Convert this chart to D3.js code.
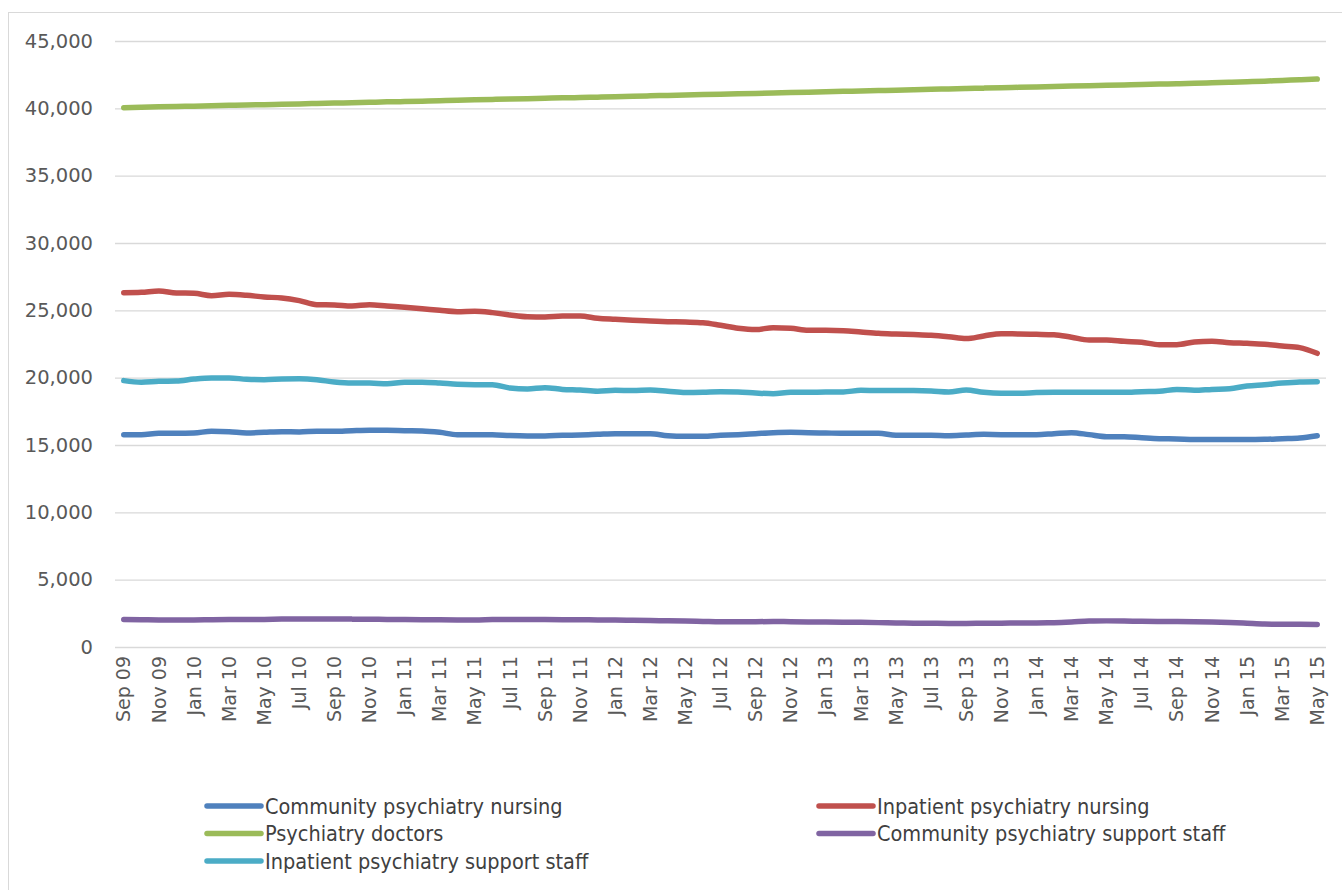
<!DOCTYPE html>
<html>
<head>
  <title>Psychiatry workforce, Sep 09 - May 15</title>
  <script src="https://d3js.org/d3.v7.min.js"></script>
  <style>
    body {
      background-color: white;
      margin: 0;
      padding: 0;
      overflow: hidden;
    }
    svg { display: block; }
  </style>
</head>
<body>
  <svg width="1342" height="890"></svg>

  <script>
    // monthly figures, Sep 2009 to May 2015 (69 months)
    const months = d3.timeMonth.range(new Date(2009, 8, 1), new Date(2015, 5, 1)).map(d3.timeFormat("%b %y"));

    const communityNursing = [
      15770, 15770, 15870, 15870, 15890, 16020, 15990, 15890, 15940, 15990,
      15970, 16020, 16020, 16060, 16090, 16090, 16060, 16040, 15940, 15770,
      15770, 15770, 15700, 15670, 15670, 15720, 15740, 15790, 15840, 15840,
      15840, 15690, 15650, 15650, 15720, 15770, 15840, 15910, 15940, 15910,
      15890, 15870, 15870, 15870, 15720, 15720, 15720, 15690, 15740, 15790,
      15770, 15770, 15770, 15840, 15910, 15770, 15620, 15620, 15540, 15470,
      15450, 15400, 15400, 15400, 15400, 15420, 15470, 15520, 15690
    ];
    const inpatientNursing = [
      26310, 26340, 26440, 26290, 26270, 26090, 26190, 26120, 25990, 25920,
      25720, 25420, 25400, 25320, 25420, 25320, 25230, 25120, 25000, 24900,
      24930, 24830, 24660, 24530, 24510, 24580, 24580, 24410, 24330, 24260,
      24210, 24160, 24130, 24080, 23890, 23670, 23570, 23710, 23670, 23520,
      23520, 23490, 23390, 23290, 23240, 23200, 23150, 23040, 22900, 23100,
      23270, 23240, 23220, 23190, 23000, 22800, 22800, 22700, 22630, 22450,
      22450, 22650, 22700, 22600, 22550, 22480, 22350, 22230, 21810
    ];
    const doctors = [
      40050, 40080, 40110, 40140, 40160, 40190, 40220, 40250, 40270, 40300,
      40330, 40360, 40390, 40420, 40450, 40480, 40500, 40530, 40560, 40600,
      40630, 40660, 40690, 40720, 40750, 40780, 40800, 40830, 40860, 40900,
      40930, 40960, 40990, 41020, 41050, 41080, 41110, 41140, 41170, 41200,
      41230, 41260, 41290, 41320, 41350, 41380, 41410, 41440, 41470, 41500,
      41530, 41560, 41590, 41620, 41650, 41680, 41710, 41740, 41770, 41800,
      41830, 41860, 41900, 41940, 41980, 42020, 42070, 42120, 42170
    ];
    const communitySupport = [
      2040, 2020, 2010, 2010, 2010, 2030, 2040, 2040, 2050, 2070,
      2080, 2080, 2080, 2070, 2060, 2050, 2040, 2030, 2020, 2010,
      2010, 2040, 2050, 2050, 2040, 2030, 2020, 2010, 2000, 1980,
      1960, 1950, 1930, 1900, 1870, 1870, 1880, 1890, 1880, 1860,
      1850, 1840, 1830, 1810, 1790, 1770, 1760, 1750, 1750, 1760,
      1770, 1780, 1790, 1800, 1850, 1930, 1940, 1930, 1910, 1900,
      1890, 1880, 1860, 1820, 1760, 1700, 1690, 1690, 1680
    ];
    const inpatientSupport = [
      19780, 19660, 19730, 19750, 19900, 19980, 19980, 19880, 19850, 19900,
      19920, 19850, 19680, 19600, 19600, 19550, 19660, 19660, 19600, 19510,
      19480, 19480, 19230, 19160, 19260, 19130, 19080, 18990, 19060, 19040,
      19080, 18990, 18890, 18910, 18960, 18940, 18860, 18810, 18910, 18910,
      18940, 18940, 19060, 19040, 19040, 19040, 19010, 18940, 19080, 18910,
      18840, 18840, 18890, 18910, 18910, 18910, 18910, 18910, 18960, 18990,
      19130, 19060, 19130, 19180, 19380, 19480, 19600, 19680, 19700
    ];

    const seriesNames = [
      "Community psychiatry nursing", "Inpatient psychiatry nursing", "Psychiatry doctors",
      "Community psychiatry support staff", "Inpatient psychiatry support staff"
    ];
    const seriesColors = ["#4F81BD", "#C0504D", "#9BBB59", "#8064A2", "#4BACC6"];
    const seriesValues = [communityNursing, inpatientNursing, doctors, communitySupport, inpatientSupport];
    const yTicks = [0, 5000, 10000, 15000, 20000, 25000, 30000, 35000, 40000, 45000];

    const svg = d3.select("svg"),
          margin = { top: 41, right: 16, bottom: 243, left: 115 },
          width = +svg.attr("width") - margin.left - margin.right,
          height = +svg.attr("height") - margin.top - margin.bottom;

    // chart border
    svg.append("rect")
        .attr("x", 8.5).attr("y", 12.5)
        .attr("width", 1345).attr("height", 890)
        .attr("fill", "none")
        .attr("stroke", "#d9d9d9");

    const g = svg.append("g").attr("transform", "translate(" + margin.left + "," + margin.top + ")");

    const xScale = d3.scaleBand().domain(months).range([0, width]);
    const yScale = d3.scaleLinear().domain([0, 45000]).range([height, 0]);

    // gridlines + y labels
    const yAxis = g.append("g")
        .call(d3.axisLeft(yScale).tickValues(yTicks).tickSize(-width).tickPadding(22).tickFormat(d3.format(",")));
    yAxis.select(".domain").remove();
    yAxis.selectAll(".tick line").attr("stroke", "#d9d9d9").attr("stroke-width", 1.3);
    yAxis.selectAll(".tick text")
        .attr("font-family", "DejaVu Sans")
        .attr("font-size", "19.5px")
        .attr("fill", "#595959");

    // x labels, every second month
    const xAxis = g.append("g")
        .attr("transform", "translate(0," + height + ")")
        .call(d3.axisBottom(xScale).tickValues(months.filter((m, i) => i % 2 === 0)).tickSize(0).tickPadding(0));
    xAxis.select(".domain").remove();
    xAxis.selectAll(".tick text")
        .attr("font-family", "DejaVu Sans")
        .attr("font-size", "19px")
        .attr("fill", "#595959")
        .attr("text-anchor", "end")
        .attr("dy", "0.35em")
        .attr("transform", "translate(0,9) rotate(-90)");

    const line = d3.line()
        .x((d, i) => xScale(months[i]) + xScale.bandwidth() / 2)
        .y(d => yScale(d))
        .curve(d3.curveMonotoneX);

    g.selectAll(".series")
      .data(seriesValues)
      .enter().append("path")
        .attr("class", "series")
        .attr("d", line)
        .attr("fill", "none")
        .attr("stroke", (d, i) => seriesColors[i])
        .attr("stroke-width", 5.5)
        .attr("stroke-linecap", "round")
        .attr("stroke-linejoin", "round");

    // legend, two columns
    const legend = svg.append("g");
    const item = legend.selectAll(".item")
      .data(seriesNames)
      .enter().append("g")
        .attr("class", "item")
        .attr("transform", (d, i) => "translate(" + (i % 2 === 0 ? 207 : 819) + "," + (806 + Math.floor(i / 2) * 27.5) + ")");

    item.append("line")
        .attr("x1", 0).attr("x2", 54)
        .attr("stroke", (d, i) => seriesColors[i])
        .attr("stroke-width", 5.5)
        .attr("stroke-linecap", "round");

    item.append("text")
        .attr("x", 58)
        .attr("dy", "0.35em")
        .attr("font-family", "DejaVu Sans Condensed")
        .attr("font-size", "21.5px")
        .attr("fill", "#404040")
        .text(d => d);
  </script>
</body>
</html>
